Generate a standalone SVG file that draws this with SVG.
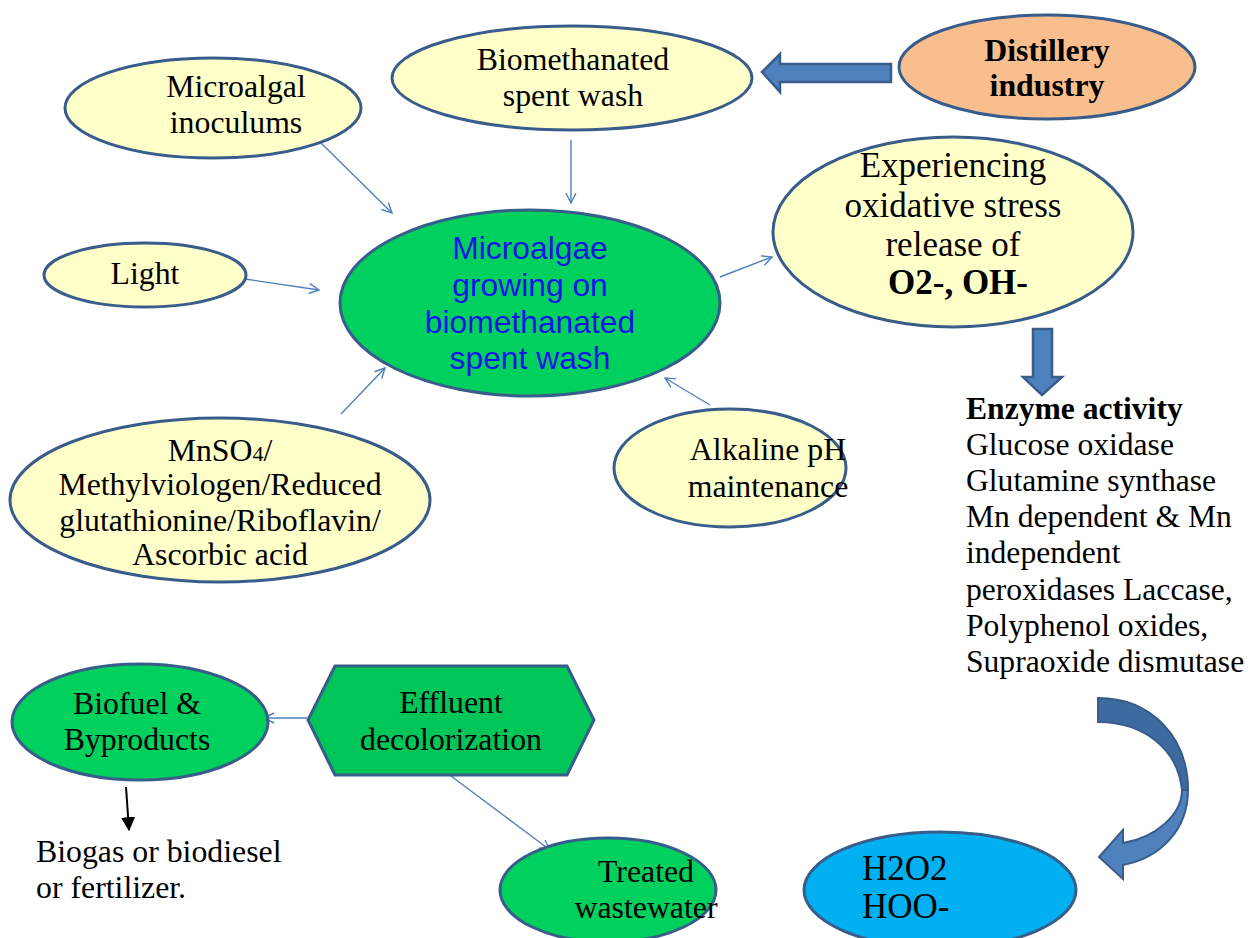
<svg xmlns="http://www.w3.org/2000/svg" width="1248" height="938" viewBox="0 0 1248 938">
<style>
.n{stroke:#385D8A;stroke-width:3}
.y{fill:#FFFFC9}
.g{fill:#00D05E}
.t{font-family:"Liberation Serif","Times New Roman",serif;font-size:31.8px;fill:#000}
.te{font-family:"Liberation Serif","Times New Roman",serif;font-size:31.6px;fill:#000}
.tb{font-family:"Liberation Serif","Times New Roman",serif;font-size:35px;fill:#000}
.s{font-family:"Liberation Sans",Arial,sans-serif;font-size:31.8px;fill:#1414E6}
.c{stroke:#4F81BD;stroke-width:1.4;fill:none;marker-end:url(#oa)}
.blk{fill:#4F81BD;stroke:#385D8A;stroke-width:2.5}
</style>
<defs>
<marker id="oa" viewBox="0 0 12 12" refX="11" refY="6" markerWidth="12" markerHeight="12" markerUnits="userSpaceOnUse" orient="auto">
<path d="M1,1 L11,6 L1,11" fill="none" stroke="#4F81BD" stroke-width="1.4"/>
</marker>
<marker id="ba" viewBox="0 0 12 12" refX="11" refY="6" markerWidth="14" markerHeight="14" markerUnits="userSpaceOnUse" orient="auto">
<path d="M0,0 L12,6 L0,12 Z" fill="#000"/>
</marker>
</defs>
<rect width="1248" height="938" fill="#fff"/>

<g id="connectors">
<line class="c" x1="321" y1="143" x2="392" y2="213"/>
<line class="c" x1="571" y1="140" x2="571" y2="203"/>
<line class="c" x1="245" y1="279" x2="319" y2="290"/>
<line class="c" x1="720" y1="277" x2="772" y2="257"/>
<line class="c" x1="341" y1="414" x2="385" y2="368"/>
<line class="c" x1="710" y1="405" x2="665" y2="378"/>
<line class="c" x1="307" y1="718" x2="264" y2="718"/>
<line class="c" x1="447" y1="773" x2="550" y2="850"/>
<line x1="126" y1="787" x2="129" y2="830" stroke="#000" stroke-width="2" marker-end="url(#ba)"/>
<polygon class="blk" points="762,72 780,54 780,64 891,64 891,82 780,82 780,92"/>
<polygon class="blk" points="1033,329 1052,329 1052,377 1062,377 1042,395 1023,377 1033,377"/>
<path d="M1098,698 C1152,698 1188,738 1188,790 L1182,790 C1178,750 1145,722 1098,722 Z" fill="#3D6A9F" stroke="#385D8A" stroke-width="2"/>
<path d="M1188,790 C1188,830 1160,858 1123,865 L1123,879 L1099,857 L1123,830 L1123,843 C1155,838 1182,815 1182,790 Z" fill="#4F81BD" stroke="#385D8A" stroke-width="2"/>
</g>

<g id="microalgal">
<ellipse class="n y" cx="213" cy="108" rx="148" ry="50"/>
<text class="t" text-anchor="middle"><tspan x="236" y="97">Microalgal</tspan><tspan x="236" y="133">inoculums</tspan></text>
</g>

<g id="biomethanated">
<ellipse class="n y" cx="572" cy="78" rx="180" ry="52"/>
<text class="t" text-anchor="middle"><tspan x="573" y="70">Biomethanated</tspan><tspan x="573" y="106">spent wash</tspan></text>
</g>

<g id="distillery">
<ellipse class="n" fill="#F9BE8E" cx="1047" cy="67" rx="148" ry="52"/>
<text class="t" text-anchor="middle" font-weight="bold"><tspan x="1047" y="61">Distillery</tspan><tspan x="1047" y="96">industry</tspan></text>
</g>

<g id="light">
<ellipse class="n y" cx="145" cy="275" rx="101" ry="32"/>
<text class="t" text-anchor="middle" x="145" y="284">Light</text>
</g>

<g id="microalgae">
<ellipse class="n g" cx="530" cy="303" rx="190" ry="93"/>
<text class="s" text-anchor="middle"><tspan x="530" y="259">Microalgae</tspan><tspan x="530" y="296">growing on</tspan><tspan x="530" y="333">biomethanated</tspan><tspan x="530" y="369">spent wash</tspan></text>
</g>

<g id="oxidative">
<ellipse class="n y" cx="953" cy="232" rx="180" ry="95"/>
<text class="tb" text-anchor="middle"><tspan x="953" y="177">Experiencing</tspan><tspan x="953" y="217">oxidative stress</tspan><tspan x="953" y="256">release of</tspan><tspan x="958" y="294" font-weight="bold">O2-, OH-</tspan></text>
</g>

<g id="enzyme">
<text class="te"><tspan x="966" y="419" font-weight="bold">Enzyme activity</tspan><tspan x="966" y="455">Glucose oxidase</tspan><tspan x="966" y="491">Glutamine synthase</tspan><tspan x="966" y="527">Mn dependent &amp; Mn</tspan><tspan x="966" y="563">independent</tspan><tspan x="966" y="600">peroxidases Laccase,</tspan><tspan x="966" y="636">Polyphenol oxides,</tspan><tspan x="966" y="672">Supraoxide dismutase</tspan></text>
</g>

<g id="mnso4">
<ellipse class="n y" cx="220" cy="500" rx="210" ry="82"/>
<text class="t" text-anchor="middle"><tspan x="220" y="461">MnSO<tspan font-size="22">4</tspan>/</tspan><tspan x="220" y="495">Methylviologen/Reduced</tspan><tspan x="220" y="531">glutathionine/Riboflavin/</tspan><tspan x="220" y="565">Ascorbic acid</tspan></text>
</g>

<g id="alkaline">
<ellipse class="n y" cx="730" cy="468" rx="116" ry="59"/>
<text class="t" text-anchor="middle"><tspan x="768" y="460">Alkaline pH</tspan><tspan x="768" y="497">maintenance</tspan></text>
</g>

<g id="biofuel">
<ellipse class="n g" cx="140" cy="722" rx="128" ry="58"/>
<text class="t" text-anchor="middle"><tspan x="137" y="714">Biofuel &amp;</tspan><tspan x="137" y="750">Byproducts</tspan></text>
</g>

<g id="biogas">
<text class="t"><tspan x="36" y="862">Biogas or biodiesel</tspan><tspan x="36" y="898">or fertilizer.</tspan></text>
</g>

<g id="effluent">
<polygon class="n" fill="#00C65A" points="308,720 335,666 567,666 594,720 567,775 335,775"/>
<text class="t" text-anchor="middle"><tspan x="451" y="713">Effluent</tspan><tspan x="451" y="750">decolorization</tspan></text>
</g>

<g id="treated">
<ellipse class="n g" cx="608" cy="890" rx="108" ry="52"/>
<text class="t" text-anchor="middle"><tspan x="646" y="882">Treated</tspan><tspan x="646" y="918">wastewater</tspan></text>
</g>

<g id="h2o2">
<ellipse class="n" fill="#00B0F0" cx="940" cy="890" rx="136" ry="58"/>
<text class="tb"><tspan x="862" y="880">H2O2</tspan><tspan x="862" y="918">HOO-</tspan></text>
</g>
</svg>
